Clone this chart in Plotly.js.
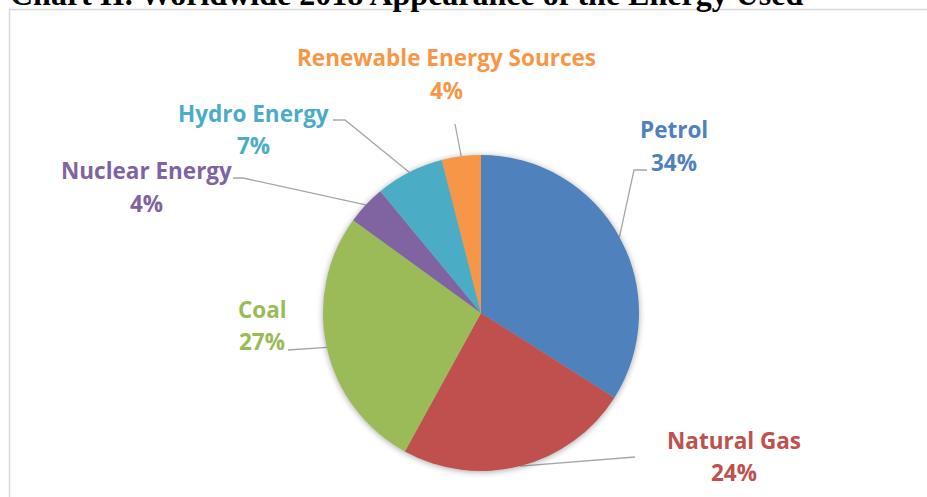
<!DOCTYPE html>
<html>
<head>
<meta charset="utf-8">
<script src="https://cdn.plot.ly/plotly-3.0.1.min.js"></script>
<style>
html,body{margin:0;padding:0;background:#fff;}
#chart{width:927px;height:497px;}
.pielayer{filter:drop-shadow(0px 1px 3px rgba(0,0,0,0.35));}
</style>
</head>
<body>
<div id="chart"></div>
<script>
// ---- data ----
var categories = ["Petrol", "Natural Gas", "Coal", "Nuclear Energy", "Hydro Energy", "Renewable Energy Sources"];
var shares = [34, 24, 27, 4, 7, 4];
var colors = ["#4F81BD", "#C0504D", "#9BBB59", "#8064A2", "#4BACC6", "#F79646"];
var chartTitle = "Chart II. Worldwide 2018 Appearance of the Energy Used";

// ---- layout geometry (pixels) ----
var W = 927, H = 497;
var cx = 481, cy = 313, R = 158;
// label centres: [nameX, nameY, pctX, pctY]
var labelPos = [
  [674, 129, 674, 162],
  [734, 440, 734, 472],
  [262, 309, 262, 341],
  [146, 171, 146, 203],
  [254, 113, 254, 145],
  [446, 58, 446, 91]
];
// leader line points near the label (pixels), ending at slice edge
var leaderPts = [
  [[647,170],[634,170]],
  [[635,457]],
  [[288,350]],
  [[233,178],[243,178]],
  [[333,120],[345,120]],
  [[455,124]]
];

function px(x){ return x / W; }
function py(y){ return 1 - y / H; }

var labelFont = "'Open Sans', Lato, sans-serif";
var labelSize = 22.5;

var total = shares.reduce(function(a,b){return a+b;},0);
var shapes = [];
var annotations = [];
var cum = 0;
for (var i = 0; i < shares.length; i++) {
  var mid = (cum + shares[i] / 2) / total * 2 * Math.PI;
  cum += shares[i];
  var ex = cx + R * Math.sin(mid);
  var ey = cy - R * Math.cos(mid);
  var pts = leaderPts[i].concat([[ex, ey]]);
  var d = "";
  for (var k = 0; k < pts.length; k++) {
    d += (k === 0 ? "M" : " L") + px(pts[k][0]) + "," + py(pts[k][1]);
  }
  shapes.push({type: "path", xref: "paper", yref: "paper", path: d,
    line: {color: "#a6a6a6", width: 1.3}, layer: "below"});
  annotations.push({xref: "paper", yref: "paper", x: px(labelPos[i][0]), y: py(labelPos[i][1]),
    xanchor: "center", yanchor: "middle", showarrow: false, text: "<b>" + categories[i] + "</b>",
    font: {family: labelFont, size: labelSize, color: colors[i]}});
  annotations.push({xref: "paper", yref: "paper", x: px(labelPos[i][2]), y: py(labelPos[i][3]),
    xanchor: "center", yanchor: "middle", showarrow: false, text: "<b>" + shares[i] + "%</b>",
    font: {family: labelFont, size: labelSize, color: colors[i]}});
}

// title (cut off at top edge, as in the reference)
annotations.push({xref: "paper", yref: "paper", x: px(8), y: py(-6.5), xanchor: "left", yanchor: "middle",
  showarrow: false, text: "<b>" + chartTitle + "</b>",
  font: {family: "'Liberation Serif', 'Times New Roman', serif", size: 32, color: "#000"}});

// frame
shapes.push({type: "rect", xref: "paper", yref: "paper", x0: px(9.5), x1: px(940), y0: py(520), y1: py(9.5),
  line: {color: "#d9d9d9", width: 1.5}, fillcolor: "rgba(0,0,0,0)", layer: "below"});

var trace = {
  type: "pie",
  labels: categories,
  values: shares,
  sort: false,
  direction: "clockwise",
  rotation: 0,
  textinfo: "none",
  hoverinfo: "label+percent",
  marker: {colors: colors, line: {width: 0}},
  domain: {x: [px(cx - R), px(cx + R)], y: [py(cy + R), py(cy - R)]},
  showlegend: false
};

var layout = {
  width: W, height: H,
  margin: {l: 0, r: 0, t: 0, b: 0},
  paper_bgcolor: "#ffffff",
  showlegend: false,
  shapes: shapes,
  annotations: annotations
};

Plotly.newPlot("chart", [trace], layout, {displayModeBar: false, staticPlot: true});
</script>
</body>
</html>
